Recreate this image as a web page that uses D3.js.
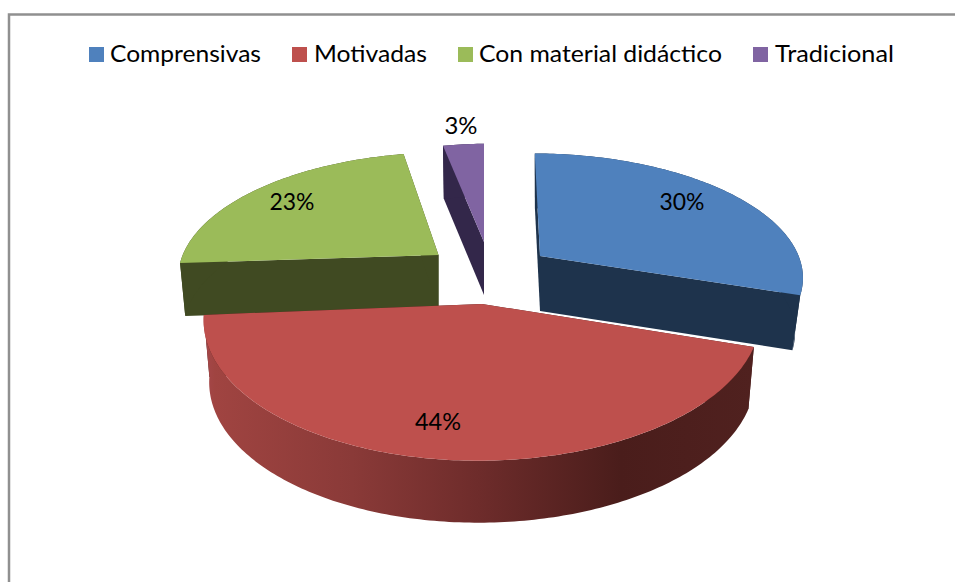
<!DOCTYPE html>
<html lang="es">
<head>
<meta charset="utf-8">
<script src="https://cdn.jsdelivr.net/npm/d3@7"></script>
<style>
html,body{margin:0;padding:0;background:#fff;overflow:hidden}
svg{display:block}
text{font-family:Lato,"Open Sans",sans-serif;fill:#000}
</style>
</head>
<body>
<script>
// ---- data ----
const categories = ["Comprensivas", "Motivadas", "Con material didáctico", "Tradicional"];
const values = [30, 44, 23, 3];

// ---- styles ----
const topColors = ["#4F81BD", "#BE504D", "#9BBB59", "#8064A2"];
const sideColors = ["#1E334C", "url(#redSide)", "#404A22", "#33274A"];

// ---- layout (per-slice 3D projection, fitted to the picture) ----
const apexX = [540, 482, 438.5, 484];
const apexY = [256, 304, 255, 242];
const radiusX = [259, 277, 256, 251];
const radiusY = [118, 141, 118, 113];
const perspective = [0.15, 0.1, 0.15, 0.15];
const shearX = [6, 0, -8, 0];
const shearY = [1, -2, -0.5, -3];
const depth = [55, 62, 53, 53];
const bottomScaleX = [0.97, 0.98, 0.98, 0.98];
const drawOrder = [3, 2, 0, 1];

const legendSwatchX = [89, 292, 458, 753];
const legendTextX = [110, 314, 479, 775];
const legendTextW = [151, 113, 243, 119];
const labelX = [682, 438, 292, 461];
const labelY = [202, 422, 202, 126];
const labelW = [45, 46, 45, 33];

const W = 955, H = 582;
const svg = d3.select("body").append("svg").attr("width", W).attr("height", H);

const grad = svg.append("defs").append("linearGradient")
  .attr("id", "redSide").attr("gradientUnits", "userSpaceOnUse")
  .attr("x1", 204).attr("x2", 752).attr("y1", 0).attr("y2", 0);
[[0, "#A5474A"], [0.02, "#A04441"], [0.27, "#8A3A38"], [0.5, "#6E2C2B"], [0.76, "#4A1D1B"], [1, "#50211F"]]
  .forEach(([o, c]) => grad.append("stop").attr("offset", o).attr("stop-color", c));

// frame
const frame = svg.append("g").attr("stroke", "#909090").attr("stroke-width", 2.5).attr("fill", "none");
frame.append("path").attr("d", d3.line()([[955, 14.5], [9, 14.5], [9, 582]]));

// pie
const arcs = d3.pie().sort(null).value(d => d).startAngle(0).endAngle(2 * Math.PI)(values);

function project(i, theta, r, bottom) {
  const u = r * Math.sin(theta), v = -r * Math.cos(theta);
  const w = 1 - perspective[i] * v;
  const k = bottom ? bottomScaleX[i] : 1;
  return [
    apexX[i] + k * (radiusX[i] * u + shearX[i] * v) / w,
    apexY[i] + (bottom ? depth[i] : 0) + (radiusY[i] * v + shearY[i] * u) / w
  ];
}
const line = d3.line();
function arcAngles(a) {
  const n = Math.max(8, Math.ceil((a.endAngle - a.startAngle) * 60));
  return d3.range(n + 1).map(j => a.startAngle + (a.endAngle - a.startAngle) * j / n);
}

const pie = svg.append("g");
drawOrder.forEach(i => {
  const a = arcs[i];
  const g = pie.append("g");
  const ang = arcAngles(a);
  [a.startAngle, a.endAngle].forEach(t => {
    g.append("path")
      .attr("d", line([project(i, t, 0, false), project(i, t, 1, false), project(i, t, 1, true), project(i, t, 0, true)]) + "Z")
      .attr("fill", i === 1 ? "#4A1D1B" : sideColors[i]);
  });
  const rim = ang.map(t => project(i, t, 1, false)).concat(ang.slice().reverse().map(t => project(i, t, 1, true)));
  g.append("path").attr("d", line(rim) + "Z").attr("fill", sideColors[i]);
  const face = [project(i, 0, 0, false)].concat(ang.map(t => project(i, t, 1, false)));
  g.append("path").attr("d", line(face) + "Z").attr("fill", topColors[i]);
});

// labels
svg.append("g").selectAll("text").data(values).join("text")
  .attr("x", (d, i) => labelX[i]).attr("y", (d, i) => labelY[i] + 8)
  .attr("text-anchor", "middle").attr("font-size", 23)
  .attr("textLength", (d, i) => labelW[i]).attr("lengthAdjust", "spacingAndGlyphs")
  .text(d => d + "%");

// legend
const legend = svg.append("g");
legend.selectAll("rect").data(categories).join("rect")
  .attr("x", (d, i) => legendSwatchX[i]).attr("y", 47).attr("width", 15).attr("height", 15)
  .attr("fill", (d, i) => topColors[i]);
legend.selectAll("text").data(categories).join("text")
  .attr("x", (d, i) => legendTextX[i]).attr("y", 62)
  .attr("font-size", 24)
  .attr("textLength", (d, i) => legendTextW[i]).attr("lengthAdjust", "spacingAndGlyphs")
  .text(d => d);
</script>
</body>
</html>
